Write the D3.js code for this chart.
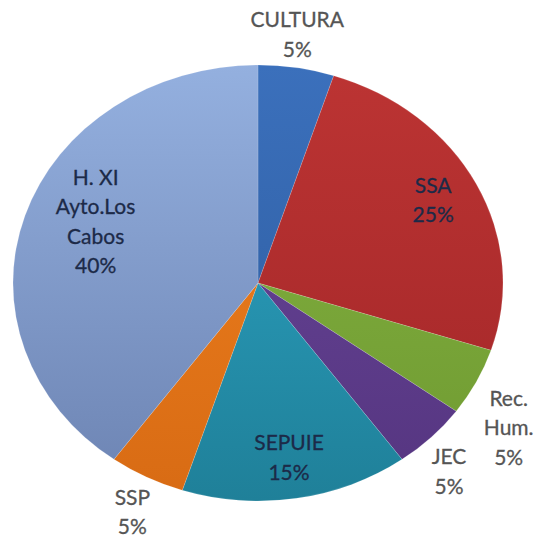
<!DOCTYPE html>
<html>
<head>
<meta charset="utf-8">
<script src="https://cdn.jsdelivr.net/npm/d3@7"></script>
<style>
  body { margin: 0; background: #fff; }
  text { font-family: Lato, "Open Sans", sans-serif; }
</style>
</head>
<body>
<div id="chart"></div>
<script>
// data
const categories = ["CULTURA", "SSA", "Rec. Hum.", "JEC", "SEPUIE", "SSP", "H. XI Ayto.Los Cabos"]
const values = [5, 25, 5, 5, 15, 5, 40]
// label text split in lines
const labelLines = [["CULTURA"], ["SSA"], ["Rec.", "Hum."], ["JEC"], ["SEPUIE"], ["SSP"], ["H. XI", "Ayto.Los", "Cabos"]]

// colours: top / bottom of each slice gradient
const colorsTop = ["#3b70bc", "#bc3433", "#85b342", "#6a479a", "#2ea7c7", "#f0821f", "#94b0df"]
const colorsBottom = ["#2c5a9c", "#a22628", "#6f9a31", "#553580", "#1f8099", "#d86b14", "#6c83b2"]
const inside = [false, true, false, false, true, false, true]

// label placement relative to the slice (radius factor, angle nudge in degrees)
const labelR = [1.15, 0.81, 1.22, 1.165, 0.81, 1.17, 0.72]
const labelNudge = [-1, -1, 6, 3, 0, -1, 5]

const width = 543, height = 545
const cx = 258, cy = 283, rx = 245, ry = 218

let svg = d3.select("#chart")
    .append("svg")
    .attr("width", width)
    .attr("height", height)

// gradients
const defs = svg.append("defs")
categories.forEach(function(c, i) {
    const g = defs.append("linearGradient")
        .attr("id", "grad" + i)
        .attr("gradientUnits", "userSpaceOnUse")
        .attr("x1", 0).attr("y1", -rx).attr("x2", 0).attr("y2", rx)
    g.append("stop").attr("offset", "0%").attr("stop-color", colorsTop[i])
    g.append("stop").attr("offset", "100%").attr("stop-color", colorsBottom[i])
})

const pie = d3.pie().sort(null).value(d => d)
const arcs = pie(values)

const arc = d3.arc().innerRadius(0).outerRadius(rx)

// pie is a bit squashed vertically, like the original picture
const g = svg.append("g")
    .attr("transform", `translate(${cx}, ${cy}) scale(1, ${ry / rx})`)

g.selectAll("path")
    .data(arcs)
    .join("path")
    .attr("d", arc)
    .attr("fill", (d, i) => `url(#grad${i})`)
    .attr("stroke", "rgba(255,255,255,0.3)")
    .attr("stroke-width", 0.5)

// labels
const lineH = 29.5
const labels = svg.append("g")
arcs.forEach(function(d, i) {
    const a = (d.startAngle + d.endAngle) / 2 + labelNudge[i] * Math.PI / 180
    const x = cx + Math.sin(a) * rx * labelR[i]
    const y = cy - Math.cos(a) * ry * labelR[i]
    const lines = labelLines[i].concat([values[i] + "%"])
    const t = labels.append("text")
        .attr("text-anchor", "middle")
        .attr("font-size", 21)
        .attr("fill", inside[i] ? "#1c2a48" : "#555")
        .attr("stroke", inside[i] ? "#1c2a48" : "#555")
        .attr("stroke-width", 0.3)
    lines.forEach(function(l, j) {
        t.append("tspan")
            .attr("x", x)
            .attr("y", y + (j - (lines.length - 1) / 2) * lineH)
            .attr("dy", "0.35em")
            .text(l)
    })
})
</script>
</body>
</html>
